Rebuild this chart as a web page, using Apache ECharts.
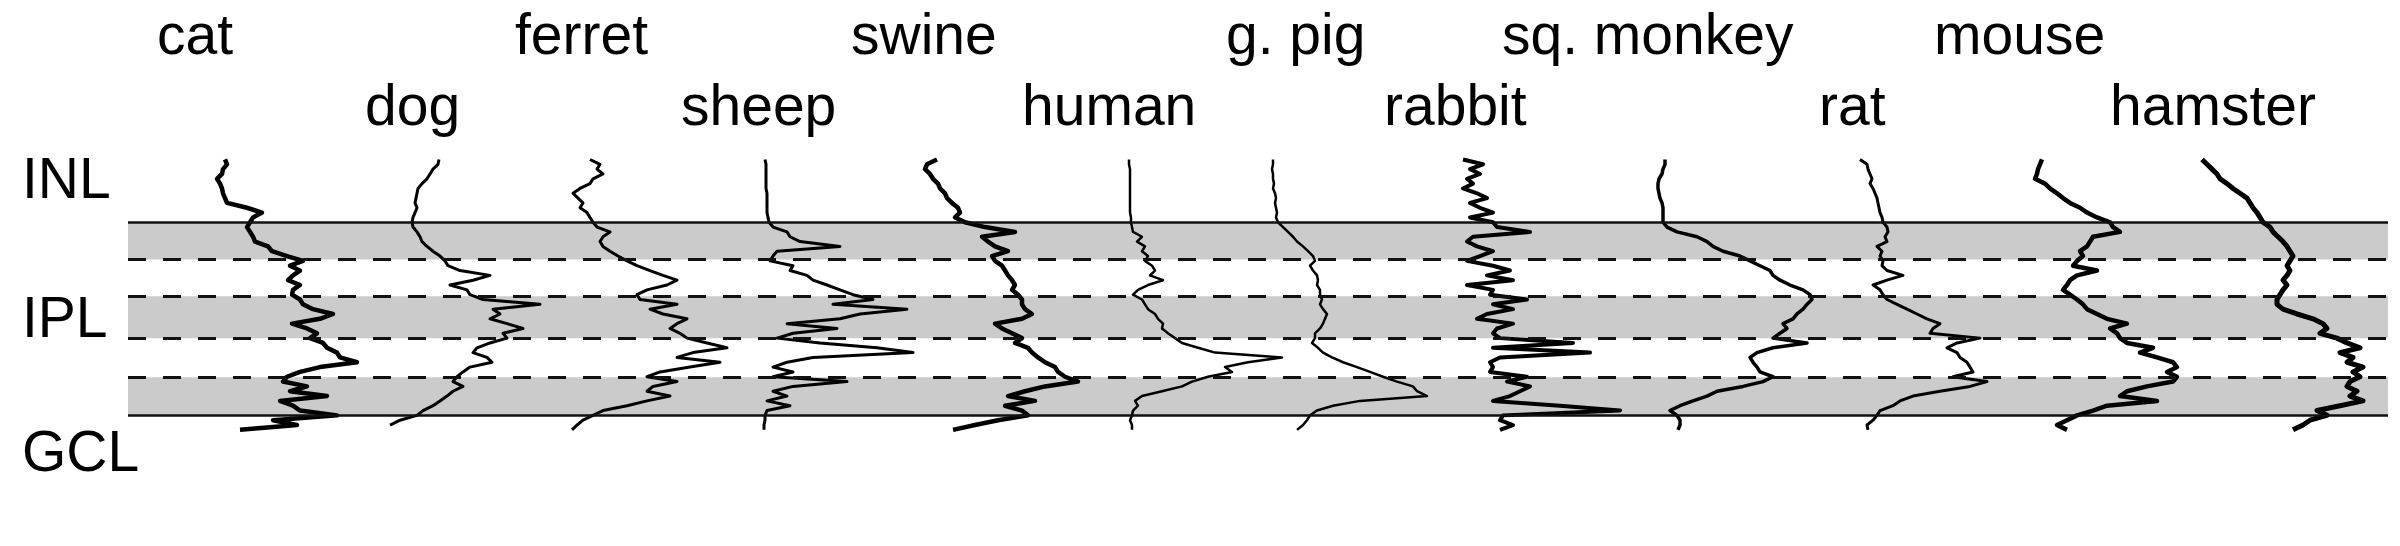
<!DOCTYPE html>
<html>
<head>
<meta charset="utf-8">
<title>IPL profiles</title>
<script src="https://cdn.jsdelivr.net/npm/echarts@6/dist/echarts.min.js"></script>
<style>
	html, body { margin: 0; padding: 0; background: #fff; }
	#chart { width: 2400px; height: 546px; }
</style>
</head>
<body>
<div id="chart"></div>
<script>
// depth through the IPL (0 = INL border, 100 = GCL border)
var depths = [-32.5, -30, -27.5, -25, -22.5, -20, -17.5, -15, -12.5, -10, -7.5, -5, -2.5,
	0, 2.5, 5, 7.5, 10, 12.5, 15, 17.5, 20, 22.5, 25, 27.5, 30, 32.5, 35, 37.5, 40, 42.5,
	45, 47.5, 50, 52.5, 55, 57.5, 60, 62.5, 65, 67.5, 70, 72.5, 75, 77.5, 80, 82.5, 85,
	87.5, 90, 92.5, 95, 97.5, 100, 102.5, 105, 107.5];

// stratum borders
var solidBorders = [0, 100];
var dashedBorders = [19.3, 38.3, 60, 80.3];
var grayBands = [[0, 19.3], [38.3, 60], [80.3, 100]];

// intensity profiles (a.u.), one value per depth
var cat = [25, 27, 23, 22, 17, 20, 22, 23, 25, 27, 47, 62, 53, 50, 47, 50, 53, 55, 68, 72, 87, 103, 90, 100, 93, 88, 100, 93, 92, 100, 103, 113, 133, 120, 92, 107, 117, 110, 123, 127, 137, 140, 157, 120, 100, 87, 83, 107, 90, 127, 80, 93, 100, 137, 73, 97, 40];
var dog = [239, 238, 233, 230, 227, 222, 218, 217, 216, 215, 217, 215, 213, 212, 213, 217, 220, 222, 227, 233, 240, 245, 248, 260, 290, 273, 250, 267, 270, 283, 340, 293, 300, 290, 307, 323, 303, 307, 290, 277, 273, 287, 292, 270, 263, 257, 253, 263, 253, 247, 240, 233, 223, 217, 200, 190, null];
var ferret = [30, 40, 37, 43, 33, 30, 20, 13, 18, 23, 20, 27, 30, 33, 37, 50, 43, 40, 43, 50, 58, 67, 77, 90, 103, 117, 107, 87, 77, 80, 117, 90, 103, 127, 117, 110, 120, 127, 147, 167, 133, 117, 160, 130, 100, 87, 117, 93, 87, 110, 87, 67, 43, 33, 23, 17, 12];
var sheep = [205, 206, 206, 206, 206, 206, 206, 207, 207, 207, 207, 207, 208, 209, 213, 227, 230, 240, 280, 217, 213, 210, 233, 230, 247, 253, 267, 280, 293, 313, 273, 347, 300, 280, 227, 277, 233, 217, 260, 317, 353, 253, 227, 213, 233, 213, 287, 233, 213, 227, 207, 230, 207, 205, 205, 204, 204];
var swine = [22, 12, 10, 15, 18, 23, 25, 30, 32, 37, 43, 45, 40, 50, 70, 100, 67, 73, 80, 93, 77, 80, 87, 90, 93, 97, 100, 97, 103, 107, 107, 110, 117, 107, 80, 87, 97, 107, 100, 113, 117, 123, 130, 140, 143, 150, 163, 130, 110, 93, 120, 90, 107, 113, 83, 60, 38];
var human = [214, 214, 215, 215, 215, 215, 215, 215, 215, 215, 215, 215, 216, 216, 217, 218, 227, 222, 230, 227, 233, 230, 237, 240, 235, 248, 233, 223, 218, 227, 230, 233, 240, 243, 248, 247, 253, 260, 267, 283, 300, 367, 333, 310, 317, 293, 277, 267, 247, 227, 220, 223, 218, 217, 215, 217, 217];
var gpig = [13, 13, 12, 13, 13, 14, 13, 15, 16, 15, 16, 17, 16, 18, 23, 28, 33, 37, 43, 48, 53, 55, 50, 53, 57, 58, 57, 60, 60, 62, 60, 63, 67, 65, 63, 60, 55, 55, 52, 58, 63, 72, 83, 97, 110, 123, 137, 153, 157, 167, 100, 73, 57, 50, 47, 43, 37];
var rabbit = [203, 223, 210, 220, 207, 213, 203, 217, 227, 210, 220, 233, 210, 233, 237, 270, 213, 207, 217, 233, 220, 207, 233, 250, 227, 253, 207, 233, 230, 267, 233, 253, 227, 217, 253, 237, 233, 240, 313, 233, 330, 240, 230, 233, 230, 267, 247, 270, 260, 250, 233, 300, 360, 243, 240, 253, 240];
var sqMonkey = [25, 25, 23, 22, 19, 18, 18, 19, 20, 22, 23, 23, 23, 23, 27, 37, 57, 67, 73, 83, 100, 110, 120, 130, 133, 140, 150, 163, 170, 172, 167, 163, 157, 153, 143, 147, 140, 133, 167, 133, 117, 110, 113, 117, 120, 133, 123, 103, 77, 67, 53, 40, 30, 37, 40, 40, 38];
var rat = [220, 227, 228, 230, 232, 230, 233, 235, 237, 238, 239, 240, 242, 243, 247, 248, 245, 247, 237, 242, 240, 243, 242, 247, 263, 247, 233, 240, 243, 247, 257, 267, 277, 287, 300, 293, 290, 340, 317, 307, 317, 320, 327, 330, 333, 313, 347, 330, 300, 273, 260, 253, 240, 237, 233, 227, 228];
var mouse = [22, 20, 18, 17, 15, 25, 30, 37, 43, 50, 60, 67, 77, 90, 93, 100, 73, 70, 67, 60, 63, 57, 53, 77, 57, 50, 47, 43, 50, 57, 63, 67, 77, 87, 107, 90, 97, 100, 107, 133, 120, 137, 153, 157, 147, 157, 153, 127, 107, 100, 137, 87, 73, 57, 47, 37, 47];
var hamster = [182, 187, 192, 197, 200, 207, 213, 220, 227, 230, 233, 237, 240, 243, 250, 253, 258, 263, 267, 270, 273, 270, 267, 270, 267, 263, 267, 263, 260, 257, 257, 263, 277, 293, 303, 307, 300, 317, 327, 340, 320, 333, 327, 343, 333, 340, 330, 327, 337, 330, 343, 320, 297, 307, 290, 283, 273];

// panel layout: name, profile, horizontal offset, line width, label x, label row
var species = [
	{ name: "cat", values: cat, offset: 72, width: 4.5, labelX: 157, row: 0 },
	{ name: "dog", values: dog, offset: 72, width: 3, labelX: 365, row: 1 },
	{ name: "ferret", values: ferret, offset: 432, width: 3, labelX: 515, row: 0 },
	{ name: "sheep", values: sheep, offset: 432, width: 3, labelX: 681, row: 1 },
	{ name: "swine", values: swine, offset: 787, width: 4.5, labelX: 851, row: 0 },
	{ name: "human", values: human, offset: 787, width: 2.5, labelX: 1022, row: 1 },
	{ name: "g. pig", values: gpig, offset: 1132, width: 2.5, labelX: 1226, row: 0 },
	{ name: "rabbit", values: rabbit, offset: 1132, width: 4, labelX: 1384, row: 1 },
	{ name: "sq. monkey", values: sqMonkey, offset: 1512, width: 3.5, labelX: 1502, row: 0 },
	{ name: "rat", values: rat, offset: 1512, width: 3, labelX: 1819, row: 1 },
	{ name: "mouse", values: mouse, offset: 1892, width: 4.5, labelX: 1934, row: 0 },
	{ name: "hamster", values: hamster, offset: 1892, width: 5, labelX: 2110, row: 1 }
];

var layers = [
	{ name: "INL", y: 187 },
	{ name: "IPL", y: 326 },
	{ name: "GCL", y: 460 }
];

var FONT = "'Liberation Sans', Arial, sans-serif";
var chart = echarts.init(document.getElementById("chart"));

var series = [];

// gray strata and border lines
series.push({
	type: "line",
	z: 1,
	silent: true,
	symbol: "none",
	lineStyle: { width: 0 },
	data: [[0, 0]],
	markArea: {
		silent: true,
		itemStyle: { color: "#cbcbcb" },
		data: grayBands.map(function (b) {
			return [{ yAxis: b[0] }, { yAxis: b[1] }];
		})
	},
	markLine: {
		silent: true,
		symbol: "none",
		label: { show: false },
		data: solidBorders.map(function (v) {
			return { yAxis: v, lineStyle: { color: "#111", width: 2.5, type: "solid" } };
		}).concat(dashedBorders.map(function (v) {
			return { yAxis: v, lineStyle: { color: "#111", width: 3, type: [18, 17] } };
		}))
	}
});

species.forEach(function (sp) {
	series.push({
		name: sp.name,
		type: "line",
		z: 3,
		symbol: "none",
		connectNulls: false,
		lineStyle: { color: "#000", width: sp.width, join: "round" },
		data: depths.map(function (d, i) {
			var v = sp.values[i];
			return v == null ? [null, d] : [sp.offset + v, d];
		})
	});
});

// text labels
var graphics = [];
species.forEach(function (sp) {
	graphics.push({
		type: "text",
		left: sp.labelX,
		top: sp.row == 0 ? 10 : 81,
		style: { text: sp.name, font: "57px " + FONT, fill: "#000" }
	});
});
layers.forEach(function (l) {
	graphics.push({
		type: "text",
		left: 22,
		top: l.y - 33,
		style: { text: l.name, font: "57px " + FONT, fill: "#000" }
	});
});

chart.setOption({
	animation: false,
	backgroundColor: "#fff",
	grid: { left: 128, right: 12, top: 145, bottom: 92 },
	xAxis: { type: "value", min: 0, max: 2260, show: false },
	yAxis: { type: "value", min: -40, max: 120, inverse: true, show: false },
	graphic: graphics,
	series: series
});
</script>
</body>
</html>
